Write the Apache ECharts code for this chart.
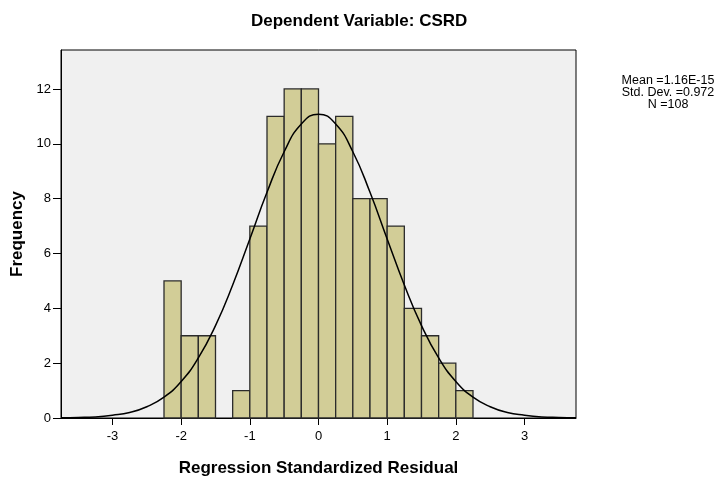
<!DOCTYPE html>
<html>
<head>
<meta charset="utf-8">
<script src="https://cdn.jsdelivr.net/npm/echarts@6/dist/echarts.min.js"></script>
<style>
html, body { margin: 0; padding: 0; background: #ffffff; }
#chart { width: 724px; height: 482px; }
</style>
</head>
<body>
<div id="chart"></div>
<script>
// histogram bins (left edge of each 0.25-wide bin) and counts
const binStart = [-2.25, -2.0, -1.75, -1.5, -1.25, -1.0, -0.75, -0.5, -0.25,
  0, 0.25, 0.5, 0.75, 1.0, 1.25, 1.5, 1.75, 2.0];
const counts = [5, 3, 3, 0, 1, 7, 11, 12, 12, 10, 11, 8, 8, 7, 4, 3, 2, 1];
const binWidth = 0.25;

// normal curve
const curveX = [-3.75, -3.5, -3.25, -3.0, -2.75, -2.5, -2.25, -2.0, -1.75, -1.5, -1.25, -1.0,
  -0.75, -0.5, -0.25, 0, 0.25, 0.5, 0.75, 1.0, 1.25, 1.5, 1.75, 2.0, 2.25, 2.5, 2.75, 3.0,
  3.25, 3.5, 3.75];
const curveY = [0.01, 0.02, 0.04, 0.1, 0.2, 0.41, 0.76, 1.33, 2.19, 3.37, 4.85, 6.53,
  8.23, 9.71, 10.72, 11.08, 10.72, 9.71, 8.23, 6.53, 4.85, 3.37, 2.19, 1.33, 0.76, 0.41, 0.2, 0.1,
  0.04, 0.02, 0.01];

const xTicks = [-3, -2, -1, 0, 1, 2, 3];
const yTicks = [0, 2, 4, 6, 8, 10, 12];

const statsLines = ['Mean =1.16E-15', 'Std. Dev. =0.972', 'N =108'];

const barData = binStart.map((s, i) => [s, s + binWidth, counts[i]]).filter(d => d[2] > 0);
const lineData = curveX.map((x, i) => [x, curveY[i]]);

const font = 'Liberation Sans, Arial, sans-serif';

let option = {
  animation: false,
  title: {
    text: 'Dependent Variable: CSRD',
    left: 246,
    top: 8,
    textStyle: { fontFamily: font, fontSize: 17, fontWeight: 'bold', color: '#000' }
  },
  grid: {
    left: 61, top: 50, width: 515, height: 369,
    show: true,
    backgroundColor: '#F0F0F0',
    borderColor: '#000',
    borderWidth: 1
  },
  xAxis: {
    type: 'value',
    min: -3.75,
    max: 3.75,
    name: 'Regression Standardized Residual',
    nameLocation: 'middle',
    nameGap: 42,
    nameTextStyle: { fontFamily: font, fontSize: 17, fontWeight: 'bold', color: '#000' },
    axisLine: { show: true, onZero: false, lineStyle: { color: '#000', width: 1 } },
    axisTick: { show: true, length: 7, customValues: xTicks, lineStyle: { color: '#000' } },
    axisLabel: { customValues: xTicks, fontFamily: font, fontSize: 13, color: '#000', margin: 12 },
    splitLine: { show: false }
  },
  yAxis: {
    type: 'value',
    min: 0,
    max: 13.42,
    name: 'Frequency',
    nameLocation: 'middle',
    nameGap: 31,
    nameTextStyle: { fontFamily: font, fontSize: 17, fontWeight: 'bold', color: '#000' },
    axisLine: { show: true, onZero: false, lineStyle: { color: '#000', width: 1 } },
    axisTick: { show: true, length: 8, customValues: yTicks, lineStyle: { color: '#000' } },
    axisLabel: { customValues: yTicks, fontFamily: font, fontSize: 13, color: '#000', margin: 10 },
    splitLine: { show: false }
  },
  graphic: [{
    type: 'text',
    x: 668,
    y: 75,
    style: {
      text: statsLines.join('\n'),
      align: 'center',
      fontFamily: font,
      fontSize: 12.5,
      lineHeight: 12,
      fill: '#000'
    }
  }],
  series: [{
    type: 'custom',
    data: barData,
    encode: { x: [0, 1], y: 2 },
    renderItem: function (params, api) {
      const p0 = api.coord([api.value(0), 0]);
      const p1 = api.coord([api.value(1), api.value(2)]);
      return {
        type: 'rect',
        shape: { x: p0[0], y: p1[1], width: p1[0] - p0[0], height: p0[1] - p1[1] },
        style: { fill: '#D2CD97', stroke: '#2b2b2b', lineWidth: 1.3 }
      };
    },
    z: 2
  }, {
    type: 'line',
    data: lineData,
    smooth: true,
    showSymbol: false,
    lineStyle: { color: '#000', width: 1.5 },
    z: 3
  }]
};

var myChart = echarts.init(document.getElementById('chart'));
myChart.setOption(option);
</script>
</body>
</html>
